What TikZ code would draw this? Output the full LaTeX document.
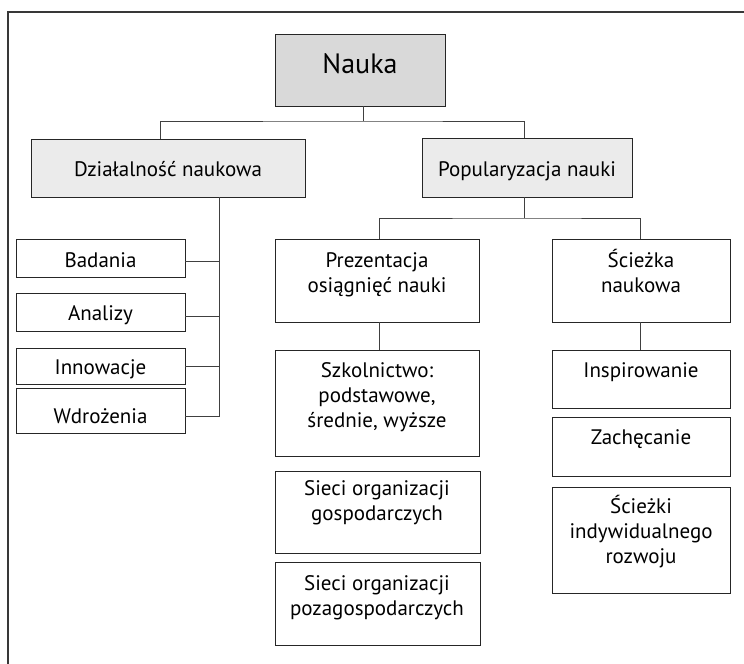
\documentclass[tikz,border=0pt]{standalone}
\usepackage{fontspec}
\setmainfont{PT Sans}
\begin{document}
\begin{tikzpicture}[x=1bp,y=-1bp,
  box/.style={draw=black!85,line width=1bp,anchor=north west,inner sep=0pt,outer sep=0pt},
  txt/.style={anchor=base,inner sep=0pt,align=center,font=\fontsize{21bp}{25bp}\selectfont},
  conn/.style={draw=black!75,line width=1bp},
  frame/.style={draw=black!78,line width=1.5bp}]
\useasboundingbox (0,0) rectangle (744,664);
% outer frame (only top and left edges are inside the page)
\draw[frame] (8,664) -- (8,12) -- (744,12);

% level 0
\node[box,fill=black!15,minimum width=170bp,minimum height=71bp] (nauka) at (275,35) {};
\node[txt,font=\fontsize{28bp}{30bp}\selectfont] (nauka-t) at (360,74) {Nauka};

% level 1
\node[box,fill=black!8,minimum width=274bp,minimum height=58bp] (dzial) at (31,139) {};
\node[txt] (dzial-t) at (168,176) {Działalność naukowa};
\node[box,fill=black!8,minimum width=210bp,minimum height=59bp] (popul) at (422,138) {};
\node[txt] (popul-t) at (527,176) {Popularyzacja nauki};

% research activities
\node[box,minimum width=169bp,minimum height=38bp] (bad) at (16,239) {};
\node[txt] at (100.5,267) {Badania};
\node[box,minimum width=169bp,minimum height=38bp] (ana) at (16,293) {};
\node[txt] at (100.5,320) {Analizy};
\node[box,minimum width=169bp,minimum height=36bp] (inn) at (16,348) {};
\node[txt] at (100.5,374) {Innowacje};
\node[box,minimum width=169bp,minimum height=45bp] (wdr) at (16,388) {};
\node[txt] at (100.5,423) {Wdrożenia};

% popularisation: presentation branch (multi-line texts sit on their last baseline)
\node[box,minimum width=204bp,minimum height=83bp] (prez) at (275,239) {};
\node[txt] at (377,292) {Prezentacja\\osiągnięć nauki};
\node[box,minimum width=204bp,minimum height=106bp] (szk) at (275,350) {};
\node[txt] at (377,427) {Szkolnictwo:\\podstawowe,\\średnie, wyższe};
\node[box,minimum width=205bp,minimum height=82bp] (sg) at (275,471) {};
\node[txt] at (377,520) {Sieci organizacji\\gospodarczych};
\node[box,minimum width=205bp,minimum height=83bp] (sp) at (275,562) {};
\node[txt] at (377,615) {Sieci organizacji\\pozagospodarczych};

% popularisation: science path branch
\node[box,minimum width=178bp,minimum height=83bp] (scie) at (552,239) {};
\node[txt] at (641,292) {Ścieżka\\naukowa};
\node[box,minimum width=178bp,minimum height=58bp] (insp) at (552,350) {};
\node[txt] at (641,377) {Inspirowanie};
\node[box,minimum width=178bp,minimum height=59bp] (zach) at (552,417) {};
\node[txt] at (641,444) {Zachęcanie};
\node[box,minimum width=178bp,minimum height=106bp] (sciez) at (552,487) {};
\node[txt] at (641,563) {Ścieżki\\indywidualnego\\rozwoju};

% connectors
\draw[conn] ([xshift=3bp]nauka.south) -- ++(0,-15bp) coordinate (j1);
\draw[conn] ([xshift=-8bp]dzial.north) |- (j1) -| ([xshift=-3bp]popul.north);

\coordinate (spine) at ([xshift=51bp]dzial.south);
\draw[conn] (spine) |- ([yshift=-6bp]wdr.east);
\draw[conn] ([yshift=-3bp]bad.east) -- ([yshift=-3bp]bad.east -| spine);
\draw[conn] ([yshift=-4bp]ana.east) -- ([yshift=-4bp]ana.east -| spine);
\draw[conn] (inn.east) -- (inn.east -| spine);

\draw[conn] ([xshift=-3bp]popul.south) -- ++(0,-21bp) coordinate (j2);
\draw[conn] ([xshift=2bp]prez.north) |- (j2) -| ([xshift=-1bp]scie.north);
\draw[conn] ([xshift=2bp]prez.south) -- ([xshift=2bp]szk.north);
\draw[conn] ([xshift=-1bp]scie.south) -- ([xshift=-1bp]insp.north);
\end{tikzpicture}
\end{document}
